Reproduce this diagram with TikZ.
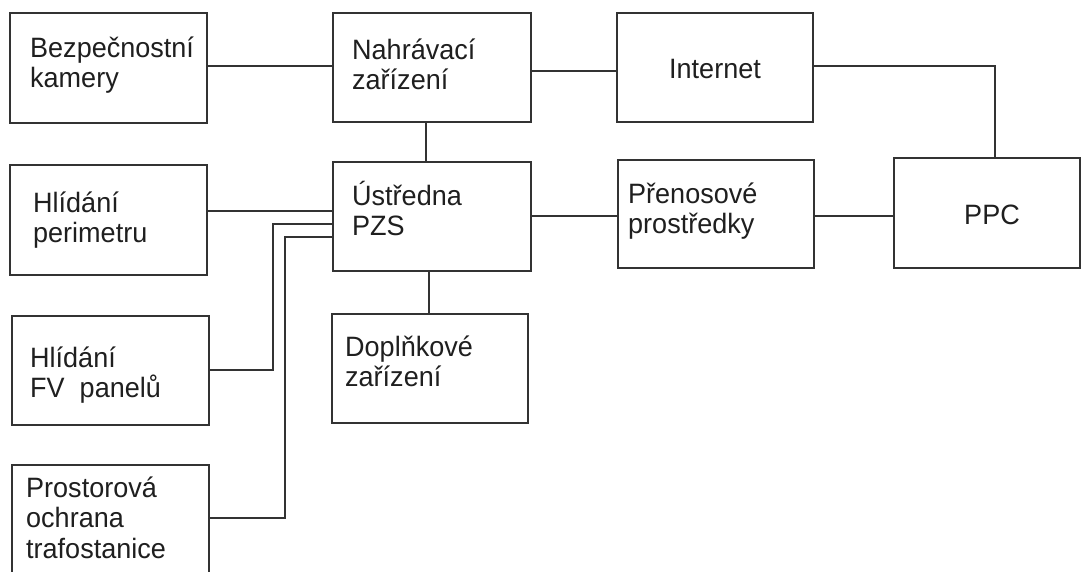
\documentclass[tikz,border=0pt]{standalone}
\usepackage{fontspec}
\setmainfont{Liberation Sans}[FakeStretch=0.965]
\usetikzlibrary{fit}
\newcommand{\tstr}{\rule{0pt}{27pt}}
\begin{document}
\begin{tikzpicture}[x=1pt,y=-1pt,
  box/.style={draw=black!80, line width=2pt, rectangle, inner sep=0pt},
  wire/.style={draw=black!80, line width=2pt},
  txt/.style={anchor=north west, inner sep=0pt, align=left, font=\fontsize{28}{30.5}\selectfont, text=black!88},
  ctxt/.style={anchor=base, inner sep=0pt, font=\fontsize{28}{30.5}\selectfont, text=black!88}]
\clip (0,0) rectangle (1082,571);
\fill[white] (0,0) rectangle (1082,571);
% boxes
\node[box, fit={(10,13)(207,123)}] (cam) {};
\node[box, fit={(333,13)(531,122)}] (rec) {};
\node[box, fit={(617,13)(813,122)}] (inet) {};
\node[box, fit={(10,165)(207,275)}] (per) {};
\node[box, fit={(333,162)(531,271)}] (ctrl) {};
\node[box, fit={(618,160)(814,268)}] (tx) {};
\node[box, fit={(894,158)(1080,268)}] (ppc) {};
\node[box, fit={(12,316)(209,425)}] (fv) {};
\node[box, fit={(332,314)(528,423)}] (dop) {};
\node[box, fit={(12,465)(209,575)}] (pro) {};
% texts
\node[txt] (camT) at (30,30) {\tstr Bezpečnostní\\kamery};
\node[txt] (recT) at (352,32) {\tstr Nahrávací\\zařízení};
\node[ctxt] (inetT) at (715,78) {Internet};
\node[txt] (perT) at (33,185) {\tstr Hlídání\\perimetru};
\node[txt] (ctrlT) at (352,178) {\tstr Ústředna\\PZS};
\node[txt] (txT) at (628,176) {\tstr Přenosové\\prostředky};
\node[ctxt] (ppcT) at (992,224) {PPC};
\node[txt] (fvT) at (30,340) {\tstr Hlídání\\FV\ \ panelů};
\node[txt] (dopT) at (345,329) {\tstr Doplňkové\\zařízení};
\node[txt] (proT) at (26,470) {\tstr Prostorová\\ochrana\\trafostanice};
% connectors
\draw[wire] ([yshift=2pt]cam.east) -- ([yshift=2pt]cam.east -| rec.west);
\draw[wire] ([yshift=-3.5pt]rec.east) -- ([yshift=-3.5pt]rec.east -| inet.west);
\draw[wire] ([xshift=-6pt]rec.south) -- ([xshift=-6pt]rec.south |- ctrl.north);
\draw[wire] ([yshift=1.5pt]inet.east) -| ([xshift=8pt]ppc.north);
\draw[wire] ([yshift=9pt]per.east) -- ([yshift=9pt]per.east -| ctrl.west);
\draw[wire] ([yshift=.5pt]ctrl.east) -- ([yshift=.5pt]ctrl.east -| tx.west);
\draw[wire] ([yshift=-2pt]tx.east) -- ([yshift=-2pt]tx.east -| ppc.west);
\draw[wire] ([yshift=.5pt]fv.east) -- ++(63,0) |- ([yshift=-7.5pt]ctrl.west);
\draw[wire] ([yshift=2pt]pro.east) -- ++(75,0) |- ([yshift=-20.5pt]ctrl.west);
\draw[wire] ([xshift=-3pt]ctrl.south) -- ([xshift=-3pt]ctrl.south |- dop.north);
\end{tikzpicture}
\end{document}
